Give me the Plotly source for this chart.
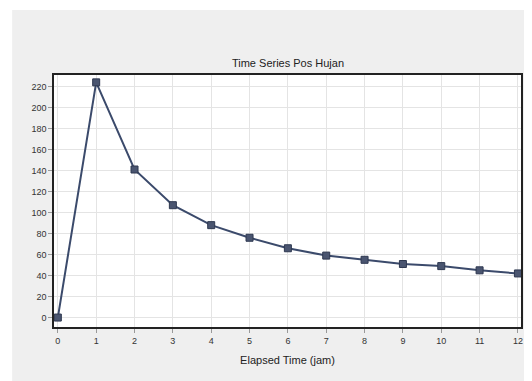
import plotly.graph_objects as go

x_vals = [0, 1, 2, 3, 4, 5, 6, 7, 8, 9, 10, 11, 12]
y_vals = [0, 224, 141, 107, 88, 76, 66, 59, 55, 51, 49, 45, 42]
x_ticks = list(range(0, 13))
y_ticks = list(range(0, 221, 20))

title_text = "Time Series Pos Hujan"
x_title = "Elapsed Time (jam)"

OFF = 8  # page body margin offset
W, H = 532 - OFF, 381 - OFF
L, R, T, B = 46, 9, 67, 54
pw, ph = W - L - R, H - T - B

def px_to_paper_x(px):
    return (px - L) / pw

def px_to_paper_y(py):
    return (H - B - py) / ph

fig = go.Figure()
fig.add_trace(go.Scatter(
    x=x_vals, y=y_vals, mode="lines+markers",
    line=dict(color="#3b4a6b", width=2),
    marker=dict(symbol="square", size=7, color="#4a5570",
                line=dict(color="#2e3850", width=1)),
    showlegend=False,
))

fig.add_shape(type="rect", xref="paper", yref="paper",
              x0=px_to_paper_x(4), x1=px_to_paper_x(W + 2),
              y0=px_to_paper_y(H + 2), y1=px_to_paper_y(2),
              fillcolor="#efefef", line=dict(width=0), layer="below")
fig.add_shape(type="rect", xref="paper", yref="paper",
              x0=0, x1=1, y0=0, y1=1,
              fillcolor="white", line=dict(width=0), layer="below")

font = "Liberation Sans"
fig.update_layout(
    width=W, height=H,
    margin=dict(l=L, r=R, t=T, b=B),
    paper_bgcolor="white",
    plot_bgcolor="rgba(0,0,0,0)",
    title=dict(text=title_text, x=280 / W,
               xanchor="center", y=1 - 55 / H, yanchor="middle",
               font=dict(family=font, size=11, color="#222")),
    font=dict(family=font, size=9, color="#333"),
)
fig.update_xaxes(
    range=[-0.1, 12.08], tickvals=x_ticks, ticktext=[str(v) for v in x_ticks],
    showgrid=True, gridcolor="#e4e4e4", gridwidth=1,
    showline=True, linecolor="#222", linewidth=1.5, mirror=True,
    ticks="outside", ticklen=4, tickcolor="#999",
    zeroline=False,
    title=dict(text=x_title, font=dict(family=font, size=11, color="#222"), standoff=12),
)
fig.update_yaxes(
    range=[-9, 231], tickvals=y_ticks, ticktext=[str(v) for v in y_ticks],
    showgrid=True, gridcolor="#e4e4e4", gridwidth=1,
    showline=True, linecolor="#222", linewidth=1.5, mirror=True,
    ticks="outside", ticklen=4, tickcolor="#999",
    zeroline=False,
)

fig.write_html("out.html")
